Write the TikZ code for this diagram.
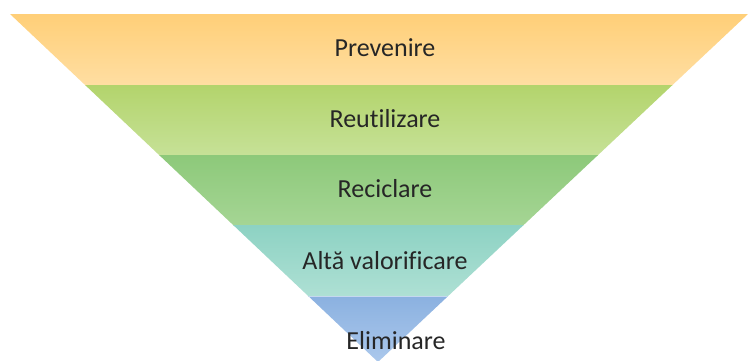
\documentclass[tikz,border=0pt]{standalone}
\usepackage{fontspec}
\setmainfont{Carlito}[Ligatures=NoCommon]
\usetikzlibrary{positioning,calc}
\definecolor{prevtop}{HTML}{FFCF78}
\definecolor{prevbot}{HTML}{FFDEA2}
\definecolor{reuttop}{HTML}{B3D46C}
\definecolor{reutbot}{HTML}{C6E197}
\definecolor{rectop}{HTML}{8DC97A}
\definecolor{recbot}{HTML}{A5D594}
\definecolor{valtop}{HTML}{8DD2C3}
\definecolor{valbot}{HTML}{AEE0D4}
\definecolor{elitop}{HTML}{8BB1E0}
\definecolor{elibot}{HTML}{ABC8EC}

\begin{document}
\begin{tikzpicture}
[x=1pt,y=-1pt,
level/.style={font=\fontsize{26}{30}\selectfont,text=black!85},
band/.style={draw=none}]
\useasboundingbox (0,0) rectangle (748,360);
%%
% funnel
%%
\begin{scope}
\clip (10,14) -- (748,14) -- (378,362) -- cycle;
\shade[band,top color=prevtop,bottom color=prevbot] (0,14) rectangle (748,85);
\shade[band,top color=reuttop,bottom color=reutbot] (0,85) rectangle (748,155);
\shade[band,top color=rectop,bottom color=recbot] (0,155) rectangle (748,225);
\shade[band,top color=valtop,bottom color=valbot] (0,225) rectangle (748,296);
\shade[band,top color=elitop,bottom color=elibot] (0,296) rectangle (748,362);
\draw[white,opacity=.5] (0,296) -- (748,296);
\end{scope}
%%
% labels
%%
\node[level] (prev) at (385,48) {Prevenire};
\node[level] (reut) at (385,119) {Reutilizare};
\node[level] (rec) at (385,189) {Reciclare};
\node[level] (val) at (385,261) {Altă valorificare};
\node[level] (eli) at (396,341) {Eliminare};
\end{tikzpicture}
\end{document}
